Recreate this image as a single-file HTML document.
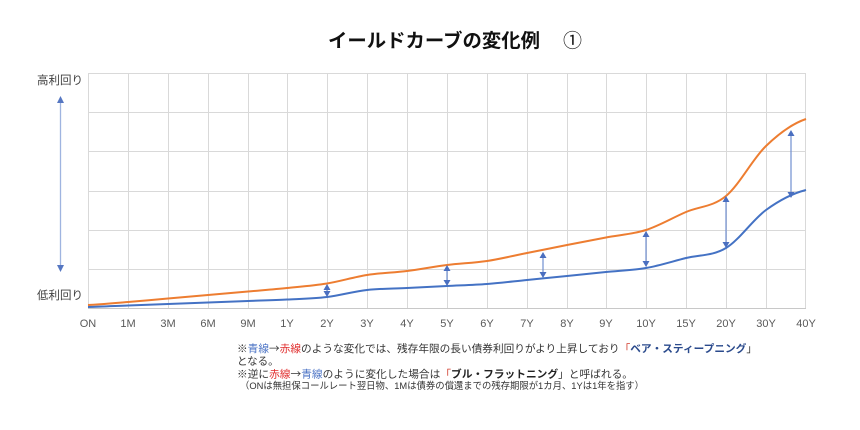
<!DOCTYPE html>
<html>
<head>
<meta charset="utf-8">
<style>
  html,body{margin:0;padding:0;background:#fff;}
  body{width:860px;height:430px;overflow:hidden;}
  svg{display:block;}
  .jp{font-family:"Liberation Sans","Noto Sans CJK JP",sans-serif;}
</style>
</head>
<body>
<svg width="860" height="430" viewBox="0 0 860 430" xmlns="http://www.w3.org/2000/svg">
  <rect x="0" y="0" width="860" height="430" fill="#ffffff"/>

  <!-- Title -->
  <text class="jp" x="328" y="47" font-size="19" font-weight="bold" fill="#111" textLength="212" lengthAdjust="spacingAndGlyphs">イールドカーブの変化例</text>
  <text class="jp" x="563" y="47" font-size="19" fill="#111">①</text>

  <!-- Grid -->
  <g stroke="#d9d9d9" stroke-width="1" fill="none">
    <line x1="88" y1="73.5" x2="806" y2="73.5"/>
    <line x1="88" y1="112.5" x2="806" y2="112.5"/>
    <line x1="88" y1="151.5" x2="806" y2="151.5"/>
    <line x1="88" y1="191.5" x2="806" y2="191.5"/>
    <line x1="88" y1="230.5" x2="806" y2="230.5"/>
    <line x1="88" y1="269.5" x2="806" y2="269.5"/>
    <line x1="88.5" y1="73" x2="88.5" y2="308"/>
    <line x1="128.5" y1="73" x2="128.5" y2="308"/>
    <line x1="168.5" y1="73" x2="168.5" y2="308"/>
    <line x1="208.5" y1="73" x2="208.5" y2="308"/>
    <line x1="248.5" y1="73" x2="248.5" y2="308"/>
    <line x1="287.5" y1="73" x2="287.5" y2="308"/>
    <line x1="327.5" y1="73" x2="327.5" y2="308"/>
    <line x1="367.5" y1="73" x2="367.5" y2="308"/>
    <line x1="407.5" y1="73" x2="407.5" y2="308"/>
    <line x1="447.5" y1="73" x2="447.5" y2="308"/>
    <line x1="487.5" y1="73" x2="487.5" y2="308"/>
    <line x1="527.5" y1="73" x2="527.5" y2="308"/>
    <line x1="567.5" y1="73" x2="567.5" y2="308"/>
    <line x1="606.5" y1="73" x2="606.5" y2="308"/>
    <line x1="646.5" y1="73" x2="646.5" y2="308"/>
    <line x1="686.5" y1="73" x2="686.5" y2="308"/>
    <line x1="726.5" y1="73" x2="726.5" y2="308"/>
    <line x1="766.5" y1="73" x2="766.5" y2="308"/>
    <line x1="805.5" y1="73" x2="805.5" y2="308"/>
  </g>
  <line x1="88" y1="308.5" x2="806" y2="308.5" stroke="#c8c8c8" stroke-width="1"/>

  <!-- Y labels -->
  <text class="jp" x="37" y="84" font-size="11.5" fill="#404040" textLength="46" lengthAdjust="spacingAndGlyphs">高利回り</text>
  <text class="jp" x="37" y="299" font-size="11.5" fill="#404040" textLength="46" lengthAdjust="spacingAndGlyphs">低利回り</text>

  <!-- left arrow -->
  <line x1="60.5" y1="102" x2="60.5" y2="266" stroke="#9fb4e0" stroke-width="1.3"/>
  <polygon points="60.5,96 57,103 64,103" fill="#5677c2"/>
  <polygon points="60.5,272 57,265 64,265" fill="#5677c2"/>

  <!-- Orange curve -->
  <path fill="none" stroke="#ED7D31" stroke-width="2" stroke-linejoin="round" d="M88,305
C101.3,304.5 114.7,303.08 128,302
C141.3,300.92 154.7,299.67 168,298.5
C181.3,297.33 194.7,296.17 208,295
C221.3,293.83 234.7,292.67 248,291.5
C261,290.33 274,289.33 287,288
C300.3,286.67 313.7,285.67 327,283.5
C340.3,281.33 353.7,277.08 367,275
C380.3,272.92 393.7,272.67 407,271
C420.3,269.33 433.7,266.67 447,265
C460.3,263.33 473.7,263 487,261
C500.3,259 513.7,255.67 527,253
C540.3,250.33 554,247.58 567,245
C580,242.42 593,240 606,237.5
C619.3,235 632.7,234.25 646,230
C659.3,225.75 672.7,217.67 686,212
C699.3,206.33 712.7,207 726,196
C739.3,185 752.7,158.83 766,146
C779.3,133.17 792.7,123.5 806,119"/>

  <!-- Blue curve -->
  <path fill="none" stroke="#4472C4" stroke-width="2" stroke-linejoin="round" d="M88,307
C101.3,306.75 114.7,306 128,305.5
C141.3,305 154.7,304.5 168,304
C181.3,303.5 194.7,303 208,302.5
C221.3,302 234.7,301.5 248,301
C261,300.5 274,300.17 287,299.5
C300.3,298.83 313.7,298.58 327,297
C340.3,295.42 353.7,291.5 367,290
C380.3,288.5 393.7,288.67 407,288
C420.3,287.33 433.7,286.67 447,286
C460.3,285.33 473.7,285 487,284
C500.3,283 513.7,281.33 527,280
C540.3,278.67 554,277.33 567,276
C580,274.67 593,273.33 606,272
C619.3,270.67 632.7,270.33 646,268
C659.3,265.67 672.7,261.33 686,258
C699.3,254.67 712.7,256 726,248
C739.3,240 752.7,219.67 766,210
C779.3,200.33 792.7,193.33 806,190"/>

  <!-- Double arrows -->
  <g stroke="#6f8fd0" stroke-width="1.2">
    <line x1="327" y1="289" x2="327" y2="292"/>
    <line x1="447" y1="270" x2="447" y2="281"/>
    <line x1="543" y1="258" x2="543" y2="272"/>
    <line x1="646" y1="237" x2="646" y2="261"/>
    <line x1="726" y1="202" x2="726" y2="242"/>
    <line x1="791" y1="136" x2="791" y2="192"/>
  </g>
  <g fill="#4a6fc0">
    <polygon points="327,284 323.5,290 330.5,290"/>
    <polygon points="327,297 323.5,291 330.5,291"/>
    <polygon points="447,265 443.5,271 450.5,271"/>
    <polygon points="447,286 443.5,280 450.5,280"/>
    <polygon points="543,252 539.5,258 546.5,258"/>
    <polygon points="543,278 539.5,272 546.5,272"/>
    <polygon points="646,231 642.5,237 649.5,237"/>
    <polygon points="646,267 642.5,261 649.5,261"/>
    <polygon points="726,196 722.5,202 729.5,202"/>
    <polygon points="726,248 722.5,242 729.5,242"/>
    <polygon points="791,130 787.5,136 794.5,136"/>
    <polygon points="791,198 787.5,192 794.5,192"/>
  </g>

  <!-- X labels -->
  <g font-family="Liberation Sans, sans-serif" font-size="11" fill="#595959" text-anchor="middle">
    <text x="88" y="327">ON</text>
    <text x="128" y="327">1M</text>
    <text x="168" y="327">3M</text>
    <text x="208" y="327">6M</text>
    <text x="248" y="327">9M</text>
    <text x="287" y="327">1Y</text>
    <text x="327" y="327">2Y</text>
    <text x="367" y="327">3Y</text>
    <text x="407" y="327">4Y</text>
    <text x="447" y="327">5Y</text>
    <text x="487" y="327">6Y</text>
    <text x="527" y="327">7Y</text>
    <text x="567" y="327">8Y</text>
    <text x="606" y="327">9Y</text>
    <text x="646" y="327">10Y</text>
    <text x="686" y="327">15Y</text>
    <text x="726" y="327">20Y</text>
    <text x="766" y="327">30Y</text>
    <text x="806" y="327">40Y</text>
  </g>

  <!-- Notes -->
  <text class="jp" x="237" y="352" font-size="10.5" fill="#333" textLength="520" lengthAdjust="spacingAndGlyphs">※<tspan fill="#4a72c4">青線</tspan><tspan font-family="Noto Sans CJK JP, sans-serif">→</tspan><tspan fill="#e02b2b">赤線</tspan>のような変化では、残存年限の長い債券利回りがより上昇しており<tspan fill="#d03a2a">「</tspan><tspan font-weight="bold" fill="#2a4a8c">ベア・スティープニング</tspan>」</text>
  <text class="jp" x="237" y="364.5" font-size="10.5" fill="#333">となる。</text>
  <text class="jp" x="237" y="377.5" font-size="10.5" fill="#333" textLength="396" lengthAdjust="spacingAndGlyphs">※逆に<tspan fill="#e02b2b">赤線</tspan><tspan font-family="Noto Sans CJK JP, sans-serif">→</tspan><tspan fill="#4a72c4">青線</tspan>のように変化した場合は<tspan fill="#d03a2a">「</tspan><tspan font-weight="bold" fill="#222">ブル・フラットニング</tspan>」と呼ばれる。</text>
  <text class="jp" x="240" y="389" font-size="9.5" fill="#333" textLength="404" lengthAdjust="spacingAndGlyphs">（ONは無担保コールレート翌日物、1Mは債券の償還までの残存期限が1カ月、1Yは1年を指す）</text>
</svg>
</body>
</html>
